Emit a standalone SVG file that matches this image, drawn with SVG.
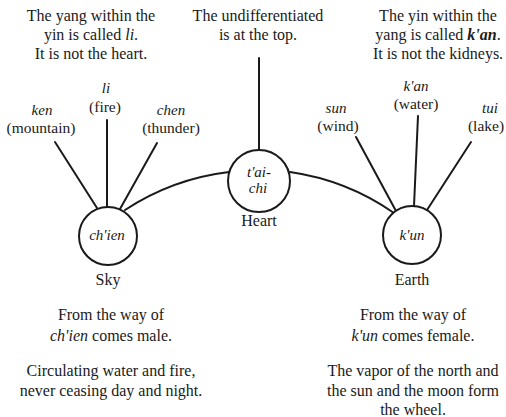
<svg xmlns="http://www.w3.org/2000/svg" width="506" height="417" viewBox="0 0 506 417">
<style>
text{font-family:"Liberation Serif","Times New Roman",serif;fill:#1a1a1a;text-anchor:middle}
.t{font-size:16px}
.r{font-size:15.5px}
.i{font-style:italic}
.n{font-size:15px;font-style:italic}
.b{font-size:16px}
.ln{stroke:#1a1a1a;stroke-width:2;fill:none;stroke-linecap:round}
.c{stroke:#1a1a1a;stroke-width:2;fill:#fff}
</style>
<rect width="506" height="417" fill="#fff"/>
<g id="connectors" class="ln">
<line x1="259" y1="58" x2="259" y2="150"/>
<path d="M125,210 A242,242 0 0 1 229,172"/>
<path d="M290,172 A242,242 0 0 1 394,213"/>
<line x1="55" y1="142" x2="97" y2="208"/>
<line x1="107" y1="120" x2="107" y2="207"/>
<line x1="157" y1="143" x2="120" y2="209"/>
<line x1="356" y1="137" x2="396" y2="211"/>
<line x1="418" y1="116" x2="414" y2="206"/>
<line x1="471" y1="142" x2="427" y2="210"/>
</g>
<g id="note-li">
<text class="t" x="91" y="21">The yang within the</text>
<text class="t" x="91" y="40">yin is called <tspan class="i">li</tspan>.</text>
<text class="t" x="91" y="59">It is not the heart.</text>
</g>
<g id="note-top">
<text class="t" x="258" y="21">The undifferentiated</text>
<text class="t" x="258" y="40">is at the top.</text>
</g>
<g id="note-kan">
<text class="t" x="438" y="21">The yin within the</text>
<text class="t" x="438" y="40">yang is called <tspan class="i" font-weight="bold">k'an</tspan>.</text>
<text class="t" x="438" y="59">It is not the kidneys.</text>
</g>
<g id="ken">
<text class="n" x="42" y="115">ken</text>
<text class="r" x="41" y="133">(mountain)</text>
</g>
<g id="li">
<text class="n" x="106" y="93">li</text>
<text class="r" x="105" y="112">(fire)</text>
</g>
<g id="chen">
<text class="n" x="171" y="115">chen</text>
<text class="r" x="171" y="133">(thunder)</text>
</g>
<g id="sun">
<text class="n" x="336" y="113">sun</text>
<text class="r" x="338" y="131">(wind)</text>
</g>
<g id="kan">
<text class="n" x="416" y="91">k'an</text>
<text class="r" x="416" y="109">(water)</text>
</g>
<g id="tui">
<text class="n" x="490" y="113">tui</text>
<text class="r" x="486" y="131">(lake)</text>
</g>
<g id="chien">
<circle class="c" cx="108" cy="236" r="29"/>
<text class="n" x="107" y="240">ch'ien</text>
<text class="b" x="108" y="285">Sky</text>
</g>
<g id="taichi">
<circle class="c" cx="259" cy="181" r="31"/>
<text class="n" x="259" y="177">t'ai-</text>
<text class="n" x="258" y="193">chi</text>
<text class="b" x="259" y="226">Heart</text>
</g>
<g id="kun">
<circle class="c" cx="412" cy="235" r="29"/>
<text class="n" x="412" y="240">k'un</text>
<text class="b" x="412" y="285">Earth</text>
</g>
<g id="text-left">
<text class="b" x="111" y="320">From the way of</text>
<text class="b" x="111" y="341"><tspan class="i">ch'ien</tspan> comes male.</text>
<text class="b" x="111" y="376">Circulating water and fire,</text>
<text class="b" x="111" y="396">never ceasing day and night.</text>
</g>
<g id="text-right">
<text class="b" x="413" y="320">From the way of</text>
<text class="b" x="413" y="341"><tspan class="i">k'un</tspan> comes female.</text>
<text class="b" x="413" y="376">The vapor of the north and</text>
<text class="b" x="413" y="396">the sun and the moon form</text>
<text class="b" x="413" y="415">the wheel.</text>
</g>
</svg>
